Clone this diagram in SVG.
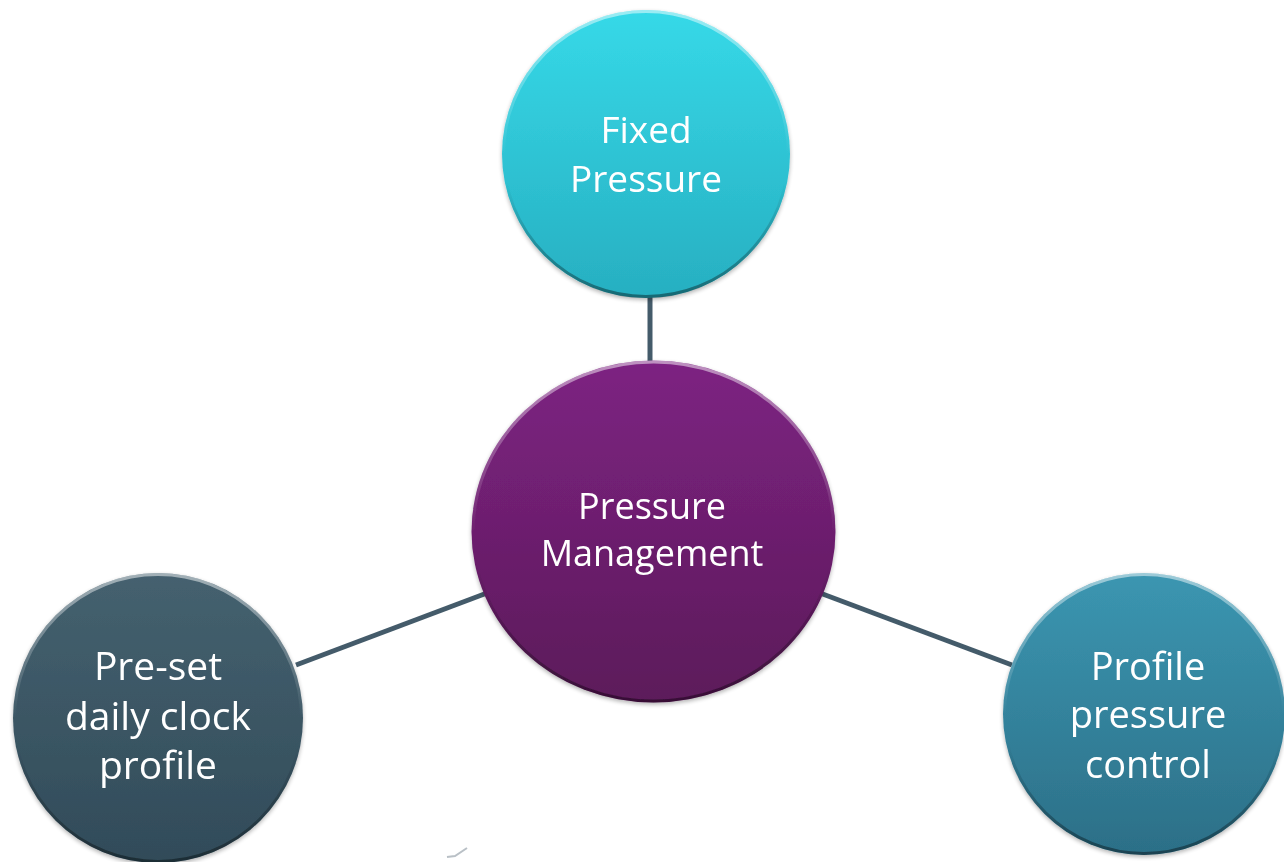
<svg xmlns="http://www.w3.org/2000/svg" width="1284" height="862" viewBox="0 0 1284 862">
  <defs>
    <linearGradient id="gCyan" x1="0" y1="0" x2="0" y2="1">
      <stop offset="0" stop-color="#36d9e8"/>
      <stop offset="1" stop-color="#27afc1"/>
    </linearGradient>
    <linearGradient id="gPurple" x1="0" y1="0" x2="0" y2="1">
      <stop offset="0" stop-color="#7d2382"/>
      <stop offset="1" stop-color="#5c1a5a"/>
    </linearGradient>
    <linearGradient id="gSlate" x1="0" y1="0" x2="0" y2="1">
      <stop offset="0" stop-color="#45616f"/>
      <stop offset="1" stop-color="#314b59"/>
    </linearGradient>
    <linearGradient id="gTeal" x1="0" y1="0" x2="0" y2="1">
      <stop offset="0" stop-color="#3b96b1"/>
      <stop offset="1" stop-color="#2c6f87"/>
    </linearGradient>
    <linearGradient id="gEdge" x1="0" y1="0" x2="0" y2="1">
      <stop offset="0" stop-color="#ffffff" stop-opacity="0.5"/>
      <stop offset="0.5" stop-color="#ffffff" stop-opacity="0"/>
      <stop offset="0.6" stop-color="#000000" stop-opacity="0"/>
      <stop offset="1" stop-color="#000000" stop-opacity="0.4"/>
    </linearGradient>
    <filter id="shadow" x="-10%" y="-10%" width="120%" height="125%">
      <feGaussianBlur in="SourceAlpha" stdDeviation="2"/>
      <feOffset dx="0" dy="2" result="b"/>
      <feComponentTransfer><feFuncA type="linear" slope="0.3"/></feComponentTransfer>
      <feMerge><feMergeNode/><feMergeNode in="SourceGraphic"/></feMerge>
    </filter>
  </defs>
  <style>
    .edge { stroke: url(#gEdge); stroke-width: 3; fill: none; }
    .lbl { font-family: "Open Sans", "Noto Sans", "DejaVu Sans", sans-serif; fill: #ffffff; text-anchor: middle; }
    .conn { stroke: #445b6a; stroke-width: 5; fill: none; stroke-linecap: butt; }
  </style>
  <rect width="1284" height="862" fill="#ffffff"/>

  <g id="connectors">
    <line class="conn" x1="650" y1="296" x2="650" y2="363"/>
    <line class="conn" x1="296" y1="665" x2="487" y2="593"/>
    <line class="conn" x1="820" y1="593" x2="1012" y2="665"/>
  </g>

  <g id="node-fixed" filter="url(#shadow)">
    <circle cx="646" cy="154" r="144" fill="url(#gCyan)"/>
    <circle class="edge" cx="646" cy="154" r="142.5"/>
    <text class="lbl" font-size="37" x="646" y="143">Fixed</text>
    <text class="lbl" font-size="37" x="646" y="192">Pressure</text>
  </g>

  <g id="node-center" filter="url(#shadow)">
    <ellipse cx="653.5" cy="531.5" rx="182" ry="171" fill="url(#gPurple)"/>
    <ellipse class="edge" cx="653.5" cy="531.5" rx="180.5" ry="169.5"/>
    <text class="lbl" font-size="36" x="652" y="518.5">Pressure</text>
    <text class="lbl" font-size="36" x="652" y="565.5">Management</text>
  </g>

  <g id="node-preset" filter="url(#shadow)">
    <circle cx="158" cy="718" r="145" fill="url(#gSlate)"/>
    <circle class="edge" cx="158" cy="718" r="143.5"/>
    <text class="lbl" font-size="39" x="158" y="680">Pre-set</text>
    <text class="lbl" font-size="39" x="158" y="730">daily clock</text>
    <text class="lbl" font-size="39" x="158" y="779">profile</text>
  </g>

  <g id="node-profile" filter="url(#shadow)">
    <circle cx="1144" cy="714" r="141" fill="url(#gTeal)"/>
    <circle class="edge" cx="1144" cy="714" r="139.5"/>
    <text class="lbl" font-size="38" x="1148" y="680">Profile</text>
    <text class="lbl" font-size="38" x="1148" y="728">pressure</text>
    <text class="lbl" font-size="38" x="1148" y="778">control</text>
  </g>

  <path d="M447 857 L455 856 L467 848" stroke="#8a96a0" stroke-width="2" fill="none" opacity="0.6"/>
</svg>
